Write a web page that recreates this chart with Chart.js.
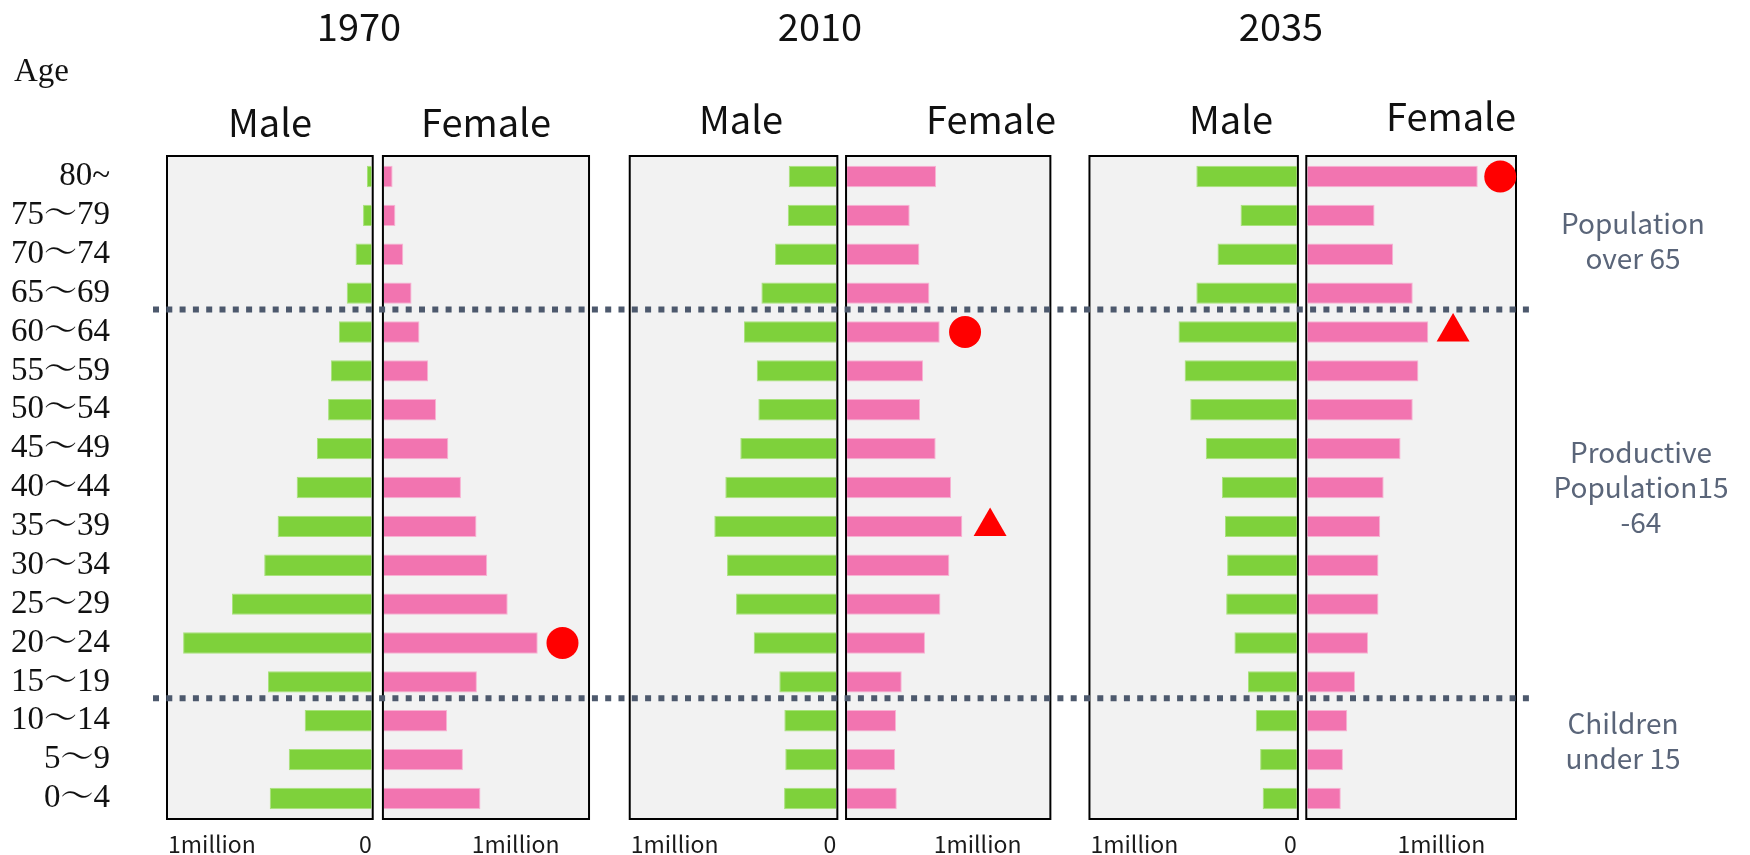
<!DOCTYPE html>
<html>
<head>
<meta charset="utf-8">
<script src="https://cdn.jsdelivr.net/npm/chart.js@4.4.1/dist/chart.umd.min.js"></script>
<style>
  body { margin: 0; background: #fff; }
  #palco { position: relative; width: 1750px; height: 855px; }
  #piramide { position: absolute; left: 0; top: 0; }
  .rotulo { position: absolute; white-space: nowrap; font-family: "Noto Sans CJK JP", "Noto Sans", sans-serif; color: #111; line-height: 1; transform: translateX(-50%); }
  .ano { font-size: 38px; }
  .sexo { font-size: 38px; }
  .idade { font-family: "Liberation Serif", serif; font-size: 33px; transform: none; }
  .nota { font-size: 28px; line-height: 35px; color: #5a6579; text-align: center; }
</style>
</head>
<body>
<div id="palco">
  <canvas id="piramide" width="1750" height="855"></canvas>
  <div class="rotulo ano" style="left:359px;top:6px">1970</div>
  <div class="rotulo ano" style="left:820px;top:6px">2010</div>
  <div class="rotulo ano" style="left:1281px;top:6px">2035</div>
  <div class="rotulo idade" style="left:14px;top:54px">Age</div>
  <div class="rotulo sexo" style="left:270px;top:102px">Male</div>
  <div class="rotulo sexo" style="left:486px;top:102px">Female</div>
  <div class="rotulo sexo" style="left:741px;top:99px">Male</div>
  <div class="rotulo sexo" style="left:991px;top:99px">Female</div>
  <div class="rotulo sexo" style="left:1231px;top:99px">Male</div>
  <div class="rotulo sexo" style="left:1451px;top:96px">Female</div>
  <div class="rotulo nota" style="left:1633px;top:205px">Population<br>over 65</div>
  <div class="rotulo nota" style="left:1641px;top:434px">Productive<br>Population15<br>-64</div>
  <div class="rotulo nota" style="left:1623px;top:705px">Children<br>under 15</div>
</div>
<script>
// faixas etarias, de cima para baixo
const faixas = ['80~', '75〜79', '70〜74', '65〜69', '60〜64', '55〜59', '50〜54', '45〜49', '40〜44',
  '35〜39', '30〜34', '25〜29', '20〜24', '15〜19', '10〜14', '5〜9', '0〜4'];

// populacao em milhares
const homens1970 = [36, 66, 123, 190, 250, 311, 332, 417, 571, 716, 818, 1063, 1435, 789, 510, 631, 776];
const mulheres1970 = [66, 87, 147, 210, 270, 336, 396, 489, 585, 703, 784, 940, 1168, 706, 480, 600, 733];
const homens2010 = [359, 366, 462, 565, 696, 600, 588, 724, 837, 920, 824, 756, 623, 430, 392, 385, 394];
const mulheres2010 = [682, 480, 554, 631, 710, 582, 559, 679, 797, 883, 784, 715, 597, 419, 375, 368, 381];
const homens2035 = [755, 423, 596, 755, 889, 843, 801, 684, 563, 540, 524, 531, 469, 367, 309, 276, 257];
const mulheres2035 = [1272, 502, 641, 787, 903, 829, 787, 696, 570, 544, 531, 531, 453, 356, 298, 266, 250];

// marcas vermelhas ao lado das barras
const marcas1970 = [{ faixa: '20〜24', valor: 1356, forma: 'circle' }];
const marcas2010 = [{ faixa: '60〜64', valor: 904, forma: 'circle' }, { faixa: '35〜39', valor: 1096, forma: 'triangle' }];
const marcas2035 = [{ faixa: '80~', valor: 1440, forma: 'circle' }, { faixa: '60〜64', valor: 1088, forma: 'triangle' }];

// limites entre grupos (ultima faixa de cada grupo de cima)
const divisoes = ['65〜69', '15〜19'];

const maximo = 1550;
const valorMilhao = 1000;
const rotuloMilhao = '1million';
const rotuloZero = '0';

// eixos x lado a lado (os vazios sao espacos entre as caixas)
const paineis = [
  { id: 'h1970', largura: 203.7, sexo: 'M' },
  { id: 'e1', largura: 12.2 },
  { id: 'm1970', largura: 204.1, sexo: 'F' },
  { id: 'e2', largura: 42.7 },
  { id: 'h2010', largura: 205.6, sexo: 'M' },
  { id: 'e3', largura: 10.7 },
  { id: 'm2010', largura: 202.3, sexo: 'F' },
  { id: 'e4', largura: 41.1 },
  { id: 'h2035', largura: 206.4, sexo: 'M' },
  { id: 'e5', largura: 10.4 },
  { id: 'm2035', largura: 207.7, sexo: 'F' }
];

const verde = '#7ed13b';
const rosa = '#f274b0';
const fonteTexto = '"Noto Sans CJK JP", "Noto Sans", sans-serif';

function semMargem(ax) {
  ax.paddingTop = 0;
  ax.paddingBottom = 0;
  ax.paddingLeft = 0;
  ax.paddingRight = 0;
}

function criarEixo(painel, ordem) {
  const eixo = {
    type: 'linear',
    position: 'bottom',
    stack: 'anos',
    stackWeight: painel.largura,
    weight: ordem,
    min: 0,
    max: maximo,
    display: !!painel.sexo,
    grid: { display: false, drawTicks: false },
    border: { display: false },
    afterFit: (ax) => { ax.height = 37; semMargem(ax); },
    ticks: {
      padding: 12,
      autoSkip: false,
      maxRotation: 0,
      color: '#1a1a1a',
      font: { family: fonteTexto, size: 23 }
    }
  };
  if (painel.sexo === 'M') {
    eixo.reverse = true;
    eixo.afterBuildTicks = (ax) => { ax.ticks = [{ value: 0 }, { value: maximo }]; };
    eixo.ticks.align = 'inner';
    eixo.ticks.callback = (v) => (v === 0 ? rotuloZero : rotuloMilhao);
  } else if (painel.sexo === 'F') {
    eixo.afterBuildTicks = (ax) => { ax.ticks = [{ value: valorMilhao }]; };
    eixo.ticks.callback = () => rotuloMilhao;
  }
  return eixo;
}

function barra(dados, eixo, cor, borda) {
  return {
    type: 'bar',
    data: dados,
    xAxisID: eixo,
    yAxisID: 'y',
    grouped: false,
    backgroundColor: cor,
    borderColor: borda,
    borderWidth: 1,
    categoryPercentage: 1,
    barPercentage: 0.55,
    order: 2
  };
}

function marcas(lista, eixo) {
  return {
    type: 'scatter',
    data: lista.map(m => ({ x: m.valor, y: m.faixa })),
    xAxisID: eixo,
    yAxisID: 'y',
    indexAxis: 'y',
    backgroundColor: '#ff0000',
    borderWidth: 0,
    pointStyle: lista.map(m => m.forma),
    pointRadius: lista.map(m => (m.forma === 'triangle' ? 19 : 16)),
    clip: false,
    order: 1
  };
}

const caixas = {
  id: 'caixas',
  beforeDatasetsDraw(chart) {
    const { ctx, chartArea } = chart;
    ctx.save();
    paineis.filter(p => p.sexo).forEach(p => {
      const s = chart.scales[p.id];
      ctx.fillStyle = '#f2f2f2';
      ctx.fillRect(s.left, chartArea.top, s.right - s.left, chartArea.bottom - chartArea.top);
      ctx.strokeStyle = '#000';
      ctx.lineWidth = 2;
      ctx.strokeRect(s.left - 1, chartArea.top - 1, s.right - s.left + 2, chartArea.bottom - chartArea.top + 2);
    });
    ctx.restore();
  }
};

const pontilhado = {
  id: 'pontilhado',
  afterDatasetsDraw(chart) {
    const { ctx, chartArea } = chart;
    const y = chart.scales.y;
    ctx.save();
    ctx.strokeStyle = '#4d596d';
    ctx.lineWidth = 6;
    ctx.setLineDash([6, 7.3]);
    divisoes.forEach(f => {
      const py = y.getPixelForValue(faixas.indexOf(f) + 0.42);
      ctx.beginPath();
      ctx.moveTo(chartArea.left - 15, py);
      ctx.lineTo(chartArea.right + 15, py);
      ctx.stroke();
    });
    ctx.restore();
  }
};

const escalas = {
  y: {
    type: 'category',
    labels: faixas,
    position: 'left',
    offset: true,
    grid: { display: false, drawTicks: false },
    border: { display: false },
    afterFit: (ax) => { ax.width = 168; semMargem(ax); },
    ticks: {
      padding: 58,
      autoSkip: false,
      color: '#111',
      font: { family: '"Liberation Serif", "Noto Serif CJK JP", "Noto Sans CJK JP", serif', size: 33 }
    }
  }
};
paineis.forEach((p, i) => { escalas[p.id] = criarEixo(p, i); });

new Chart(document.getElementById('piramide').getContext('2d'), {
  type: 'bar',
  data: {
    labels: faixas,
    datasets: [
      barra(homens1970, 'h1970', verde, '#a9e27c'),
      barra(mulheres1970, 'm1970', rosa, '#f8b3d3'),
      barra(homens2010, 'h2010', verde, '#a9e27c'),
      barra(mulheres2010, 'm2010', rosa, '#f8b3d3'),
      barra(homens2035, 'h2035', verde, '#a9e27c'),
      barra(mulheres2035, 'm2035', rosa, '#f8b3d3'),
      marcas(marcas1970, 'm1970'),
      marcas(marcas2010, 'm2010'),
      marcas(marcas2035, 'm2035')
    ]
  },
  options: {
    indexAxis: 'y',
    responsive: false,
    animation: false,
    devicePixelRatio: 1,
    layout: { padding: { top: 157, right: 235, bottom: 0, left: 0 } },
    plugins: { legend: { display: false }, tooltip: { enabled: false } },
    scales: escalas
  },
  plugins: [caixas, pontilhado]
});
</script>
</body>
</html>
